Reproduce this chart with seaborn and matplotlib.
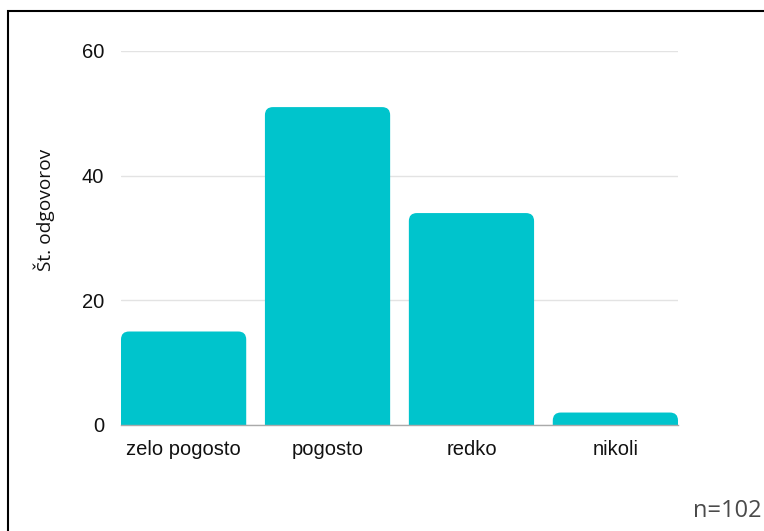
import matplotlib
matplotlib.use("Agg")
import matplotlib.pyplot as plt
import seaborn as sns
import pandas as pd
from matplotlib.patches import FancyBboxPatch, Rectangle

categories = ["zelo pogosto", "pogosto", "redko", "nikoli"]
values = [15, 51, 34, 2]
yticks = [0, 20, 40, 60]

sns.set_theme(style="white")
plt.rcParams['font.family'] = ['Liberation Sans', 'DejaVu Sans']

df = pd.DataFrame({"cat": categories, "val": values})

fig = plt.figure(figsize=(7.64, 5.31), dpi=100)
ax = fig.add_axes([121/764, 1-425/531, (678-121)/764, (425-51)/531])

color = "#00C4CC"
bw = 0.87
sns.barplot(data=df, x="cat", y="val", color=color, width=bw, saturation=1, ax=ax, zorder=2)

ax.set_ylim(0, 60)
ax.set_xlim(-bw/2, len(categories) - 1 + bw/2)

# replace bars with rounded-top bars
bbox = ax.get_window_extent()
px_x = bbox.width / (len(categories) - 1 + bw)
px_y = bbox.height / 60.0
r_px = 8
for p in list(ax.patches):
    x0, w, h = p.get_x(), p.get_width(), p.get_height()
    p.remove()
    rs = r_px / px_x
    fb = FancyBboxPatch((x0, -3), w, h + 3,
                        boxstyle=f"round,pad=0,rounding_size={rs}",
                        mutation_aspect=px_x / px_y,
                        facecolor=color, edgecolor="none", zorder=2)
    ax.add_patch(fb)

ax.set_yticks(yticks)
ax.yaxis.grid(True, color="#e3e3e3", linewidth=1, zorder=0)
ax.set_axisbelow(True)
for s in ["top", "right", "left"]:
    ax.spines[s].set_visible(False)
ax.spines["bottom"].set_color("#aaaaaa")
ax.spines["bottom"].set_linewidth(1)
ax.spines["bottom"].set_zorder(3)
ax.tick_params(axis="both", length=0, labelsize=14.5, colors="#111111")
ax.tick_params(axis="y", pad=12)
ax.tick_params(axis="x", pad=11)
ax.set_xlabel("")
ax.set_ylabel("Št. odgovorov", family=["Open Sans", "DejaVu Sans"], fontsize=13.8, color="#111111")
ax.yaxis.set_label_coords((44 - 121) / 556, (425 - 210) / 374)
ax.yaxis.label.set_va("center")

fig.text(693/764, 1-511/531, "n=102", ha="left", va="center",
         family=["Open Sans", "DejaVu Sans"], fontsize=17, color="#4a4a4a")

fig.patches.append(Rectangle((8/764, -0.1), 1.2, 1 - 11/531 + 0.1, transform=fig.transFigure,
                             fill=False, edgecolor="black", linewidth=1.5, figure=fig))

fig.savefig("out.png", dpi=100)
